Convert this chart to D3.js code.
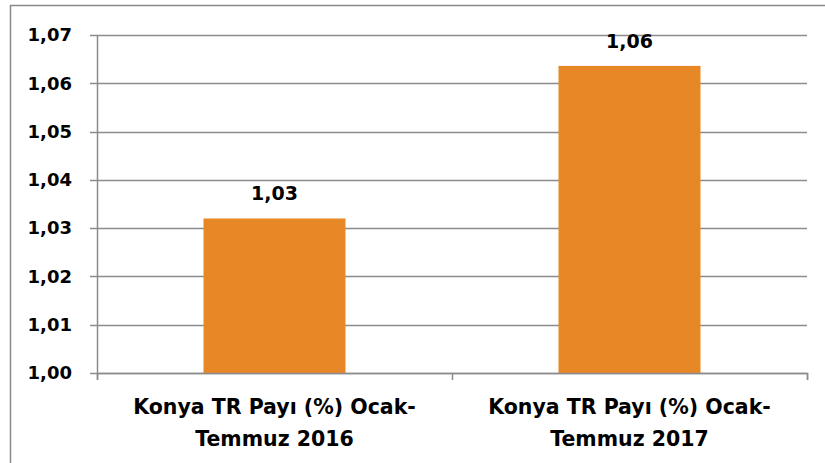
<!DOCTYPE html>
<html>
<head>
<meta charset="utf-8">
<script src="https://cdn.jsdelivr.net/npm/d3@7"></script>
<style>
  body { margin: 0; background: #fff; overflow: hidden; }
  text { font-family: "Century Gothic", "DejaVu Sans", sans-serif; font-weight: bold; fill: #000; }
</style>
</head>
<body>
<div id="chart"></div>
<script>
// chart data
var categories = ["Konya TR Payı (%) Ocak-Temmuz 2016", "Konya TR Payı (%) Ocak-Temmuz 2017"];
var labelLines = [["Konya TR Payı (%) Ocak-", "Temmuz 2016"], ["Konya TR Payı (%) Ocak-", "Temmuz 2017"]];
var values = [1.0320, 1.0636];
var valueLabels = ["1,03", "1,06"];
var yTicks = [1.00, 1.01, 1.02, 1.03, 1.04, 1.05, 1.06, 1.07];

var W = 825, H = 463;
var margin = {top: 35, right: 18, bottom: 90, left: 97};
var width = W - margin.left - margin.right;
var height = H - margin.top - margin.bottom;

var svg = d3.select("#chart").append("svg")
    .attr("width", W)
    .attr("height", H)
    .style("display", "block");

// outer frame (right and bottom edges fall outside the picture)
svg.append("rect")
    .attr("x", 10.5).attr("y", 5.5)
    .attr("width", W + 20).attr("height", H + 20)
    .attr("fill", "none")
    .attr("stroke", "#898989")
    .attr("stroke-width", 1.5);

var g = svg.append("g")
    .attr("transform", "translate(" + margin.left + "," + margin.top + ")");

var x = d3.scaleBand()
    .domain(categories)
    .range([0, width])
    .paddingInner(0.6)
    .paddingOuter(0.3);

var y = d3.scaleLinear()
    .domain([1.00, 1.07])
    .range([height, 0]);

// gridlines
g.append("g")
    .selectAll("line")
    .data(yTicks)
    .enter()
    .append("line")
    .attr("x1", -7)
    .attr("x2", width)
    .attr("y1", function (d) { return Math.round(y(d)) + 0.5; })
    .attr("y2", function (d) { return Math.round(y(d)) + 0.5; })
    .attr("stroke", "#8c8c8c")
    .attr("stroke-width", 1.5);

// y axis
var yAxis = d3.axisLeft(y)
    .tickValues(yTicks)
    .tickSize(0)
    .tickPadding(25)
    .tickFormat(function (d) { return d3.format(".2f")(d).replace(".", ","); });

var yg = g.append("g").call(yAxis);
yg.select(".domain").attr("stroke", "#8c8c8c").attr("stroke-width", 1.5);
yg.selectAll("text")
    .style("font-size", "18px")
    .style("font-family", null)
    .attr("fill", "#000");

// bars
g.selectAll("rect.bar")
    .data(values)
    .enter()
    .append("rect")
    .attr("class", "bar")
    .attr("x", function (d, i) { return x(categories[i]); })
    .attr("y", function (d) { return y(d); })
    .attr("width", x.bandwidth())
    .attr("height", function (d) { return height - y(d); })
    .attr("fill", "#E88725");

// x axis
var xAxis = d3.axisBottom(d3.scaleLinear().domain([0, 2]).range([0, width]))
    .tickValues([0, 1, 2])
    .tickSize(7)
    .tickFormat("");
var xg = g.append("g")
    .attr("transform", "translate(0," + height + ")")
    .call(xAxis);
xg.select(".domain").attr("stroke", "#8c8c8c").attr("stroke-width", 1.5);
xg.selectAll("line").attr("stroke", "#8c8c8c").attr("stroke-width", 1.5);

// category labels
var cat = g.selectAll("text.cat")
    .data(labelLines)
    .enter()
    .append("text")
    .attr("class", "cat")
    .attr("text-anchor", "middle")
    .style("font-size", "20.5px")
    .attr("transform", function (d, i) {
        return "translate(" + (x(categories[i]) + x.bandwidth() / 2) + "," + (height + 41) + ")";
    });
cat.selectAll("tspan")
    .data(function (d) { return d; })
    .enter()
    .append("tspan")
    .attr("x", 0)
    .attr("dy", function (d, i) { return i === 0 ? 0 : 32; })
    .text(function (d) { return d; });

// value labels
g.selectAll("text.val")
    .data(values)
    .enter()
    .append("text")
    .attr("class", "val")
    .attr("text-anchor", "middle")
    .style("font-size", "19px")
    .attr("x", function (d, i) { return x(categories[i]) + x.bandwidth() / 2; })
    .attr("y", function (d) { return y(d) - 18; })
    .text(function (d, i) { return valueLabels[i]; });
</script>
</body>
</html>
